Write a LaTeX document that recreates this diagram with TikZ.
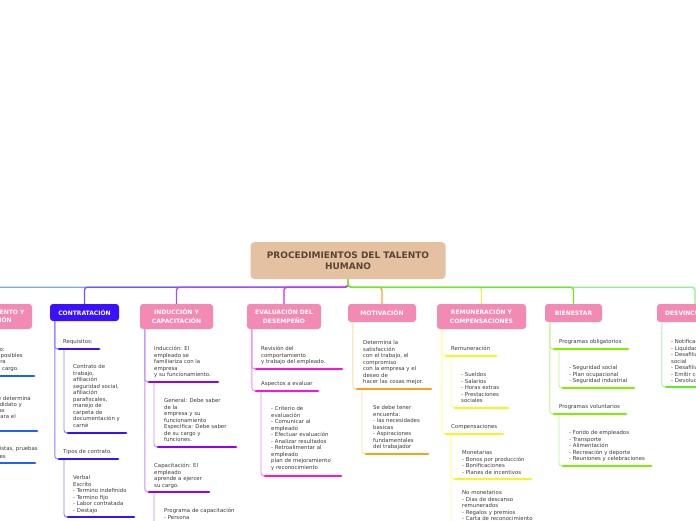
\documentclass[tikz,border=0pt]{standalone}
\usepackage{fontspec}
\setmainfont{DejaVu Sans}
\usetikzlibrary{calc}
\definecolor{rootc}{HTML}{E3C1A1}
\definecolor{roottext}{HTML}{5A4634}
\definecolor{pinkc}{HTML}{F28AB3}
\definecolor{contc}{HTML}{3A10FF}
\definecolor{txtc}{HTML}{3C3C3C}
% main connectors
\definecolor{crecl}{HTML}{80A8F0}
\definecolor{ccontr}{HTML}{6A55FF}
\definecolor{cinduc}{HTML}{A050F8}
\definecolor{ceval}{HTML}{D030F0}
\definecolor{cmotiv}{HTML}{FFA520}
\definecolor{cremun}{HTML}{EEEE50}
\definecolor{cbien}{HTML}{66EE22}
\definecolor{cdesv}{HTML}{90EE90}
% sub connectors
\definecolor{scontr}{HTML}{8C7DFF}
\definecolor{sinduc}{HTML}{C78CFF}
\definecolor{seval}{HTML}{FF80F0}
\definecolor{smotiv}{HTML}{FFDCA0}
\definecolor{sremun}{HTML}{FFFF90}
\definecolor{sbien}{HTML}{C0F590}
\definecolor{sdesv}{HTML}{B0F0B0}
% underlines
\definecolor{urecl}{HTML}{1F5FFF}
\definecolor{ucontr}{HTML}{3A10FF}
\definecolor{uinduc}{HTML}{9500F0}
\definecolor{ueval}{HTML}{FF10E0}
\definecolor{umotiv}{HTML}{FFA010}
\definecolor{uremun}{HTML}{F5F520}
\definecolor{ubien}{HTML}{7EF000}
\definecolor{udesv}{HTML}{5EF020}
\begin{document}
\begin{tikzpicture}[x=1pt,y=-1pt,
  rootbox/.style={fill=rootc, rounded corners=4pt, minimum width=195pt, minimum height=37pt, align=center, inner sep=0pt, text=roottext, font=\fontsize{9}{11.5}\selectfont\bfseries},
  brbox/.style={fill=pinkc, rounded corners=3pt, align=center, inner sep=0pt, text=white, font=\fontsize{6}{8.5}\selectfont\bfseries},
  txt/.style={anchor=north west, align=left, inner sep=0pt, text=txtc, font=\fontsize{5.4}{6.5}\selectfont},
  rline/.style={anchor=east, inner sep=0pt, text=txtc, font=\fontsize{5.4}{6.5}\selectfont},
  ul/.style={line width=2.8pt, line cap=round},
  conn/.style={line width=1.3pt, rounded corners=3pt},
  subc/.style={line width=0.9pt, rounded corners=3pt}
]
\useasboundingbox (0,0) rectangle (696,520);
\fill[white] (0,0) rectangle (696,520);

% ---------- nodes ----------
\node[rootbox] (root) at (348,260.5) {PROCEDIMIENTOS DEL TALENTO\\HUMANO};
\node[brbox, minimum width=78pt, minimum height=25pt] (recl) at (-7,316.5) {RECLUTAMIENTO Y\\SELECCIÓN};
\node[brbox, fill=contc, minimum width=69pt, minimum height=17pt] (contr) at (84.5,312.5) {CONTRATACIÓN};
\node[brbox, minimum width=73pt, minimum height=25pt] (induc) at (176.5,316.5) {INDUCCIÓN Y\\CAPACITACIÓN};
\node[brbox, minimum width=74pt, minimum height=25pt] (eval) at (284,316.5) {EVALUACIÓN DEL\\DESEMPEÑO};
\node[brbox, minimum width=68pt, minimum height=18pt] (motiv) at (382,313) {MOTIVACIÓN};
\node[brbox, minimum width=89pt, minimum height=25pt] (remun) at (481.5,316.5) {REMUNERACIÓN Y\\COMPENSACIONES};
\node[brbox, minimum width=57pt, minimum height=18pt] (bien) at (573.5,313) {BIENESTAR};
\node[brbox, minimum width=76pt, minimum height=18pt] (desv) at (695,313) {DESVINCULACIÓN};

% ---------- main connectors ----------
\draw[conn, draw=crecl] (root.south) -- ++(0,8) -| (recl.north);
\draw[conn, draw=ccontr] (root.south) -- ++(0,8) -| (contr.north);
\draw[conn, draw=cinduc] (root.south) -- ++(0,8) -| (induc.north);
\draw[conn, draw=ceval] (root.south) -- ++(0,8) -| (eval.north);
\draw[conn, draw=cmotiv] (root.south) -- ++(0,8) -| (motiv.north);
\draw[conn, draw=cremun] (root.south) -- ++(0,8) -| (remun.north);
\draw[conn, draw=cdesv] (root.south) -- ++(0,8) -| (desv.north);
\draw[conn, draw=cbien] (root.south) -- ++(0,8) -| (bien.north);

% ---------- coordinates of underlines ----------
% reclutamiento
\coordinate (r1-l) at (-60,376); \coordinate (r1-r) at (34,376);
\coordinate (r2-l) at (-60,431); \coordinate (r2-r) at (37,431);
\coordinate (r3-l) at (-60,463); \coordinate (r3-r) at (35,463);
% contratacion
\coordinate (req-l) at (59,349);  \coordinate (req-r) at (99,349);
\coordinate (reqc-l) at (68,433); \coordinate (reqc-r) at (126,433);
\coordinate (tip-l) at (59,459);  \coordinate (tip-r) at (118,459);
\coordinate (tipc-l) at (68,517); \coordinate (tipc-r) at (134,517);
% induccion
\coordinate (ind-l) at (149,382);  \coordinate (ind-r) at (218,382);
\coordinate (indc-l) at (158,447); \coordinate (indc-r) at (236,447);
\coordinate (cap-l) at (149,492);  \coordinate (cap-r) at (209,492);
\coordinate (capc-l) at (158,532); \coordinate (capc-r) at (240,532);
% evaluacion
\coordinate (rev-l) at (256,369);  \coordinate (rev-r) at (342,369);
\coordinate (asp-l) at (256,391);  \coordinate (asp-r) at (318,391);
\coordinate (aspc-l) at (265,476); \coordinate (aspc-r) at (341,476);
% motivacion
\coordinate (det-l) at (357,389);  \coordinate (det-r) at (431,389);
\coordinate (detc-l) at (366,454); \coordinate (detc-r) at (428,454);
% remuneracion
\coordinate (rem-l) at (446,356);  \coordinate (rem-r) at (496,356);
\coordinate (remc-l) at (455,408); \coordinate (remc-r) at (508,408);
\coordinate (comp-l) at (446,434); \coordinate (comp-r) at (503,434);
\coordinate (mon-l) at (455,479);  \coordinate (mon-r) at (531,479);
\coordinate (nomon-l) at (455,534); \coordinate (nomon-r) at (540,534);
% bienestar
\coordinate (obl-l) at (554,349);  \coordinate (obl-r) at (628,349);
\coordinate (oblc-l) at (563,388); \coordinate (oblc-r) at (634,388);
\coordinate (vol-l) at (554,414);  \coordinate (vol-r) at (626,414);
\coordinate (volc-l) at (563,466); \coordinate (volc-r) at (651,466);
% desvinculacion
\coordinate (des-l) at (666,387);  \coordinate (des-r) at (760,387);

% ---------- sub connectors ----------
\draw[subc, draw=scontr] ($(contr.south west)+(5,0)$) |- (req-l);
\draw[subc, draw=scontr] ($(contr.south west)+(5,0)$) |- (tip-l);
\draw[subc, draw=scontr] ($(req-l)+(5,0)$) |- (reqc-l);
\draw[subc, draw=scontr] ($(tip-l)+(5,0)$) |- (tipc-l);

\draw[subc, draw=sinduc] ($(induc.south west)+(5,0)$) |- (ind-l);
\draw[subc, draw=sinduc] ($(induc.south west)+(5,0)$) |- (cap-l);
\draw[subc, draw=sinduc] ($(ind-l)+(5,0)$) |- (indc-l);
\draw[subc, draw=sinduc] ($(cap-l)+(5,0)$) |- (capc-l);

\draw[subc, draw=seval] ($(eval.south west)+(5,0)$) |- (rev-l);
\draw[subc, draw=seval] ($(eval.south west)+(5,0)$) |- (asp-l);
\draw[subc, draw=seval] ($(asp-l)+(5,0)$) |- (aspc-l);

\draw[subc, draw=smotiv] ($(motiv.south west)+(5,0)$) |- (det-l);
\draw[subc, draw=smotiv] ($(det-l)+(5,0)$) |- (detc-l);

\draw[subc, draw=sremun] ($(remun.south west)+(5,0)$) |- (rem-l);
\draw[subc, draw=sremun] ($(remun.south west)+(5,0)$) |- (comp-l);
\draw[subc, draw=sremun] ($(rem-l)+(5,0)$) |- (remc-l);
\draw[subc, draw=sremun] ($(comp-l)+(5,0)$) |- (mon-l);
\draw[subc, draw=sremun] ($(comp-l)+(5,0)$) |- (nomon-l);

\draw[subc, draw=sbien] ($(bien.south west)+(5,0)$) |- (obl-l);
\draw[subc, draw=sbien] ($(bien.south west)+(5,0)$) |- (vol-l);
\draw[subc, draw=sbien] ($(obl-l)+(5,0)$) |- (oblc-l);
\draw[subc, draw=sbien] ($(vol-l)+(5,0)$) |- (volc-l);

\draw[subc, draw=sdesv] ($(desv.south west)+(5,0)$) |- (des-l);

% ---------- underlines ----------
\draw[ul, draw=urecl] (r1-l) -- (r1-r);
\draw[ul, draw=urecl] (r2-l) -- (r2-r);
\draw[ul, draw=urecl] (r3-l) -- (r3-r);
\draw[ul, draw=ucontr] (req-l) -- (req-r);
\draw[ul, draw=ucontr] (reqc-l) -- (reqc-r);
\draw[ul, draw=ucontr] (tip-l) -- (tip-r);
\draw[ul, draw=ucontr] (tipc-l) -- (tipc-r);
\draw[ul, draw=uinduc] (ind-l) -- (ind-r);
\draw[ul, draw=uinduc] (indc-l) -- (indc-r);
\draw[ul, draw=uinduc] (cap-l) -- (cap-r);
\draw[ul, draw=uinduc] (capc-l) -- (capc-r);
\draw[ul, draw=ueval] (rev-l) -- (rev-r);
\draw[ul, draw=ueval] (asp-l) -- (asp-r);
\draw[ul, draw=ueval] (aspc-l) -- (aspc-r);
\draw[ul, draw=umotiv] (det-l) -- (det-r);
\draw[ul, draw=umotiv] (detc-l) -- (detc-r);
\draw[ul, draw=uremun] (rem-l) -- (rem-r);
\draw[ul, draw=uremun] (remc-l) -- (remc-r);
\draw[ul, draw=uremun] (comp-l) -- (comp-r);
\draw[ul, draw=uremun] (mon-l) -- (mon-r);
\draw[ul, draw=uremun] (nomon-l) -- (nomon-r);
\draw[ul, draw=ubien] (obl-l) -- (obl-r);
\draw[ul, draw=ubien] (oblc-l) -- (oblc-r);
\draw[ul, draw=ubien] (vol-l) -- (vol-r);
\draw[ul, draw=ubien] (volc-l) -- (volc-r);
\draw[ul, draw=udesv] (des-l) -- (des-r);

% ---------- texts ----------
% reclutamiento (cut at the left edge)
\node[rline] (r1a) at (5,349) {Reclutamiento:};
\node[rline] (r1b) at (23,356) {Buscar candidatos posibles};
\node[rline] (r1c) at (6,362.5) {que sean aptos para};
\node[rline] (r1d) at (19,369) {desempeñar el cargo.};
\node[rline] (r2a) at (31,398) {Selección: Se determina};
\node[rline] (r2b) at (22,404.5) {cuál es el candidato y};
\node[rline] (r2c) at (5,411) {sus competencias};
\node[rline] (r2d) at (16,417.5) {necesarias para el};
\node[rline] (r3a) at (38,449.5) {Entrevistas, pruebas};
\node[rline] (r3b) at (6,456.5) {técnicas y exámenes};

% contratacion
\node[txt] (req) at (63,339.3) {Requisitos:};
\node[txt] (reqc) at (73,364.3) {Contrato de\\trabajo,\\afiliación\\seguridad social,\\afiliación\\parafiscales,\\manejo de\\carpeta de\\documentación y\\carné};
\node[txt] (tip) at (63,449.3) {Tipos de contrato.};
\node[txt] (tipc) at (73,475.3) {Verbal\\Escrito\\- Termino indefinido\\- Termino fijo\\- Labor contratada\\- Destajo};

% induccion
\node[txt] (ind) at (154,346.3) {Inducción: El\\empleado se\\familiariza con la\\empresa\\y su funcionamiento.};
\node[txt] (indc) at (164,398.5) {General: Debe saber\\de la\\empresa y su\\funcionamiento\\Especifica: Debe saber\\de su cargo y\\funciones.};
\node[txt] (cap) at (154,463.3) {Capacitación: El\\empleado\\aprende a ejercer\\su cargo.};
\node[txt] (capc) at (164,508.3) {Programa de capacitación\\- Persona};

% evaluacion
\node[txt] (rev) at (261,346.3) {Revisión del\\comportamiento\\y trabajo del empleado.};
\node[txt] (asp) at (261,381.3) {Aspectos a evaluar};
\node[txt] (aspc) at (271,406.3) {- Criterio de\\evaluación\\- Comunicar al\\empleado\\- Efectuar evaluación\\- Analizar resultados\\- Retroalimentar al\\empleado\\plan de mejoramiento\\y reconocimiento};

% motivacion
\node[txt] (det) at (363,340.3) {Determina la\\satisfacción\\con el trabajo, el\\compromiso\\con la empresa y el\\deseo de\\hacer las cosas mejor.};
\node[txt] (detc) at (373,405.3) {Se debe tener\\encuenta:\\- las necesidades\\basicas\\- Aspiraciones\\fundamentales\\del trabajador};

% remuneracion
\node[txt] (rem) at (451,346.3) {Remuneración};
\node[txt] (remc) at (461,372.3) {- Sueldos\\- Salarios\\- Horas extras\\- Prestaciones\\sociales};
\node[txt] (comp) at (451,424.3) {Compensaciones};
\node[txt] (mon) at (462,450.3) {Monetarias\\- Bonos por producción\\- Bonificaciones\\- Planes de incentivos};
\node[txt] (nomon) at (462,490.3) {No monetarios\\- Dias de descanso\\remunerados\\- Regalos y premios\\- Carta de reconocimiento};

% bienestar
\node[txt] (obl) at (559,339.3) {Programas obligatorios};
\node[txt] (oblc) at (569,365.3) {- Seguridad social\\- Plan ocupacional\\- Seguridad industrial};
\node[txt] (vol) at (559,404.3) {Programas voluntarios};
\node[txt] (volc) at (569,430.3) {- Fondo de empleados\\- Transporte\\- Alimentación\\- Recreación y deporte\\- Reuniones y celebraciones};

% desvinculacion
\node[txt] (des) at (671,339.3) {- Notificación del despido\\- Liquidación de prestaciones\\- Desafiliación seguridad\\social\\- Desafiliación parafiscales\\- Emitir certificado laboral\\- Devolución de dotación};
\end{tikzpicture}
\end{document}
